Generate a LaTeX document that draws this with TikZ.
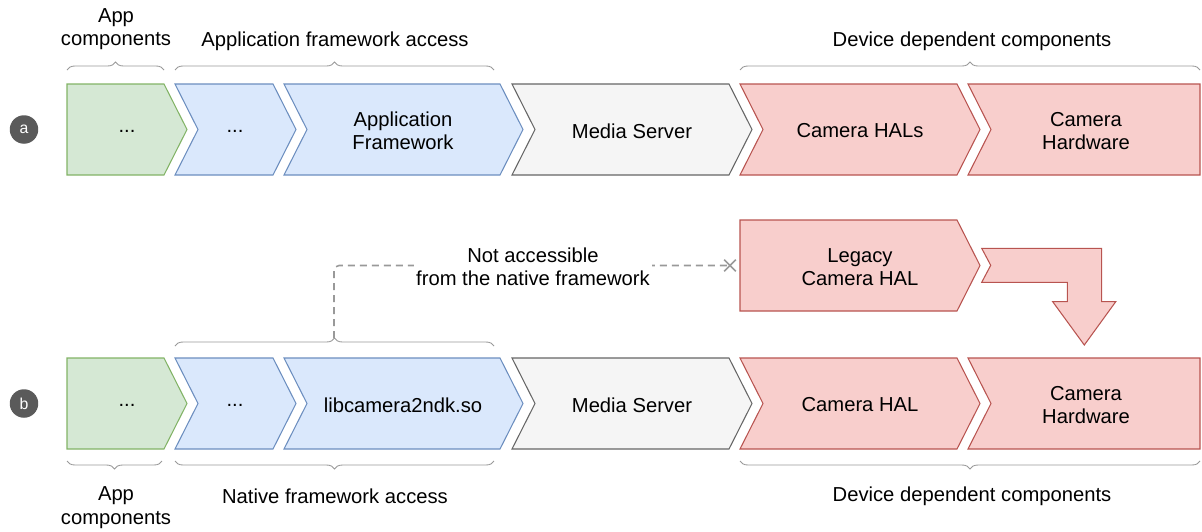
\documentclass[tikz,border=0pt]{standalone}
\usepackage{fontspec}
\setmainfont{Liberation Sans}
\usetikzlibrary{decorations.pathreplacing,shapes.misc,positioning}
\definecolor{appfill}{HTML}{D5E8D4}
\definecolor{appline}{HTML}{82B366}
\definecolor{fwfill}{HTML}{DAE8FC}
\definecolor{fwline}{HTML}{6C8EBF}
\definecolor{srvfill}{HTML}{F5F5F5}
\definecolor{srvline}{HTML}{666666}
\definecolor{devfill}{HTML}{F8CECC}
\definecolor{devline}{HTML}{B85450}
\definecolor{badge}{HTML}{5A5A5A}
\definecolor{hint}{HTML}{999999}

\begin{document}
\begin{tikzpicture}[x=0.02cm,y=-0.02cm]
\tikzstyle{every node}+=[inner sep=0pt,align=center,font=\fontsize{11.5}{13.3}\selectfont]
\tikzstyle{app}=[fill=appfill,draw=appline,line width=0.6pt]
\tikzstyle{fw}=[fill=fwfill,draw=fwline,line width=0.6pt]
\tikzstyle{srv}=[fill=srvfill,draw=srvline,line width=0.6pt]
\tikzstyle{dev}=[fill=devfill,draw=devline,line width=0.6pt]
\tikzstyle{grp}=[draw=hint,line width=0.5pt,decorate,decoration={brace,amplitude=0.16cm}]
\tikzstyle{badgecirc}=[circle,fill=badge,minimum size=0.57cm,text=white,font=\fontsize{9}{10}\selectfont]
\useasboundingbox (0,0) rectangle (1202,531);
% row a
\node[badgecirc] (rowa) at (24,129.5) {a};
\draw[app] (67,84) -- (164,84) -- (187,129.5) -- (164,175) -- (67,175) -- cycle;
\draw[fw] (175,84) -- (273,84) -- (296,129.5) -- (273,175) -- (175,175) -- (198,129.5) -- cycle;
\draw[fw] (284,84) -- (500,84) -- (523,129.5) -- (500,175) -- (284,175) -- (307,129.5) -- cycle;
\draw[srv] (512,84) -- (729,84) -- (752,129.5) -- (729,175) -- (512,175) -- (535,129.5) -- cycle;
\draw[dev] (740,84) -- (957,84) -- (980,129.5) -- (957,175) -- (740,175) -- (763,129.5) -- cycle;
\draw[dev] (968,84) -- (1200,84) -- (1200,175) -- (968,175) -- (991,129.5) -- cycle;
\node (appa) at (127,131) {...};
\node (fwa) at (235,131) {...};
\node (fwka) at (403,131) {Application\\Framework};
\node (srva) at (632,131) {Media Server};
\node (hala) at (860,131) {Camera HALs};
\node (hwa) at (1086,131) {Camera\\Hardware};
\draw[grp] (67,70) -- (164,70);
\draw[grp] (175,70) -- (494,70);
\draw[grp] (740,70) -- (1200,70);
\node (appla) at (116,29) {App\\components};
\node (fwla) at (335,41) {Application framework access};
\node (devla) at (972,41) {Device dependent components};
% legacy path
\draw[dev] (740,220) -- (957,220) -- (980,265.5) -- (957,311) -- (740,311) -- cycle;
\node (legacy) at (860,267) {Legacy\\Camera HAL};
\draw[dev] (981.7,248.3) -- (1101.7,248.3) -- (1101.7,301.7) -- (1115.7,301.7) -- (1084.3,345)
  -- (1052.7,301.7) -- (1067.3,301.7) -- (1067.3,282.3) -- (981.7,282.3) -- (990.7,265.3) -- cycle;
% row b
\node[badgecirc] (rowb) at (24,403.5) {b};
\draw[app] (67,358) -- (164,358) -- (187,403.5) -- (164,449) -- (67,449) -- cycle;
\draw[fw] (175,358) -- (273,358) -- (296,403.5) -- (273,449) -- (175,449) -- (198,403.5) -- cycle;
\draw[fw] (284,358) -- (500,358) -- (523,403.5) -- (500,449) -- (284,449) -- (307,403.5) -- cycle;
\draw[srv] (512,358) -- (729,358) -- (752,403.5) -- (729,449) -- (512,449) -- (535,403.5) -- cycle;
\draw[dev] (740,358) -- (957,358) -- (980,403.5) -- (957,449) -- (740,449) -- (763,403.5) -- cycle;
\draw[dev] (968,358) -- (1200,358) -- (1200,449) -- (968,449) -- (991,403.5) -- cycle;
\node (appb) at (127,405) {...};
\node (fwb) at (235,405) {...};
\node (ndkb) at (403,405) {libcamera2ndk.so};
\node (srvb) at (632,405) {Media Server};
\node (halb) at (860,405) {Camera HAL};
\node (hwb) at (1086,405) {Camera\\Hardware};
\draw[grp] (175,346) -- (494,346);
\draw[grp] (162,461) -- (67,461);
\draw[grp] (494,461) -- (175,461);
\draw[grp] (1200,461) -- (740,461);
\node (applb) at (116,507.5) {App\\components};
\node (fwlb) at (335,496) {Native framework access};
\node (devlb) at (972,496) {Device dependent components};
% not accessible
\coordinate (ndktip) at (334,338);
\node[cross out,draw=hint,line width=0.9pt,minimum size=0.2cm] (block) at (730,265.5) {};
\draw[hint,line width=0.9pt,dash pattern=on 0.14cm off 0.1cm,rounded corners=0.1cm] (ndktip) |- (block.center);
\node[fill=white,inner sep=1pt] (note) at (533,267) {Not accessible\\from the native framework};
\end{tikzpicture}
\end{document}
